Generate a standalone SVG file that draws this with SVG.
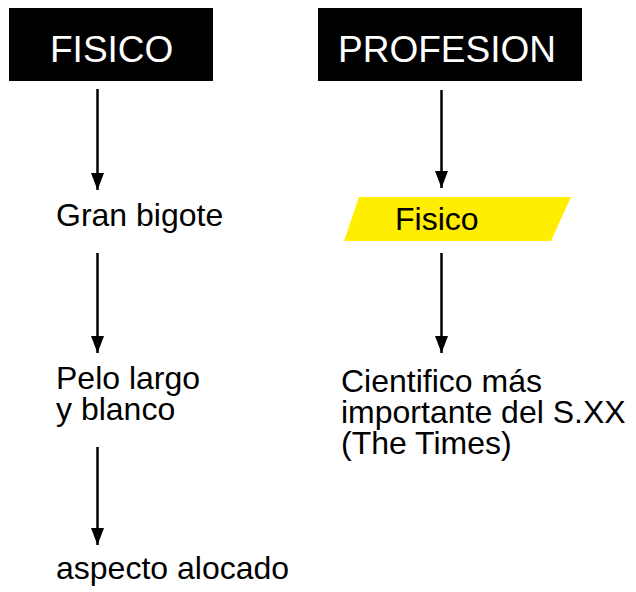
<svg xmlns="http://www.w3.org/2000/svg" width="636" height="592" viewBox="0 0 636 592">
<style>
.t{font-family:"Liberation Sans",Arial,sans-serif;font-size:32px;fill:#000}
.h{font-family:"Liberation Sans",Arial,sans-serif;font-size:37px;fill:#fff}
.c{stroke:#000;stroke-width:2.5;fill:none;marker-end:url(#ah)}
</style>
<defs>
<marker id="ah" markerUnits="userSpaceOnUse" markerWidth="17" markerHeight="13" refX="17" refY="6.5" orient="auto">
<path d="M0,0 L17,6.5 L0,13 z" fill="#000"/>
</marker>
</defs>
<rect width="636" height="592" fill="#fff"/>
<g id="fisico-header"><rect x="9" y="8" width="204" height="73" fill="#000"/><text class="h" x="50" y="62">FISICO</text></g>
<g id="profesion-header"><rect x="318" y="8" width="264" height="73" fill="#000"/><text class="h" x="338" y="62">PROFESION</text></g>
<g id="gran-bigote"><text class="t" x="56" y="226">Gran bigote</text></g>
<g id="pelo"><text class="t" x="56" y="389">Pelo largo</text><text class="t" x="56" y="420">y blanco</text></g>
<g id="aspecto"><text class="t" x="56" y="579">aspecto alocado</text></g>
<g id="fisico"><polygon points="359,197 571,197 551,241 344,241" fill="#ffee00"/><text class="t" x="395" y="230">Fisico</text></g>
<g id="cientifico"><text class="t" x="341" y="392">Cientifico más</text><text class="t" x="341" y="423">importante del S.XX</text><text class="t" x="341" y="454">(The Times)</text></g>
<g id="connectors">
<line class="c" x1="97.5" y1="89" x2="97.5" y2="190"/>
<line class="c" x1="97.5" y1="253" x2="97.5" y2="353"/>
<line class="c" x1="97.5" y1="447" x2="97.5" y2="545"/>
<line class="c" x1="441.5" y1="90" x2="441.5" y2="188"/>
<line class="c" x1="441.5" y1="253" x2="441.5" y2="353"/>
</g>
</svg>
